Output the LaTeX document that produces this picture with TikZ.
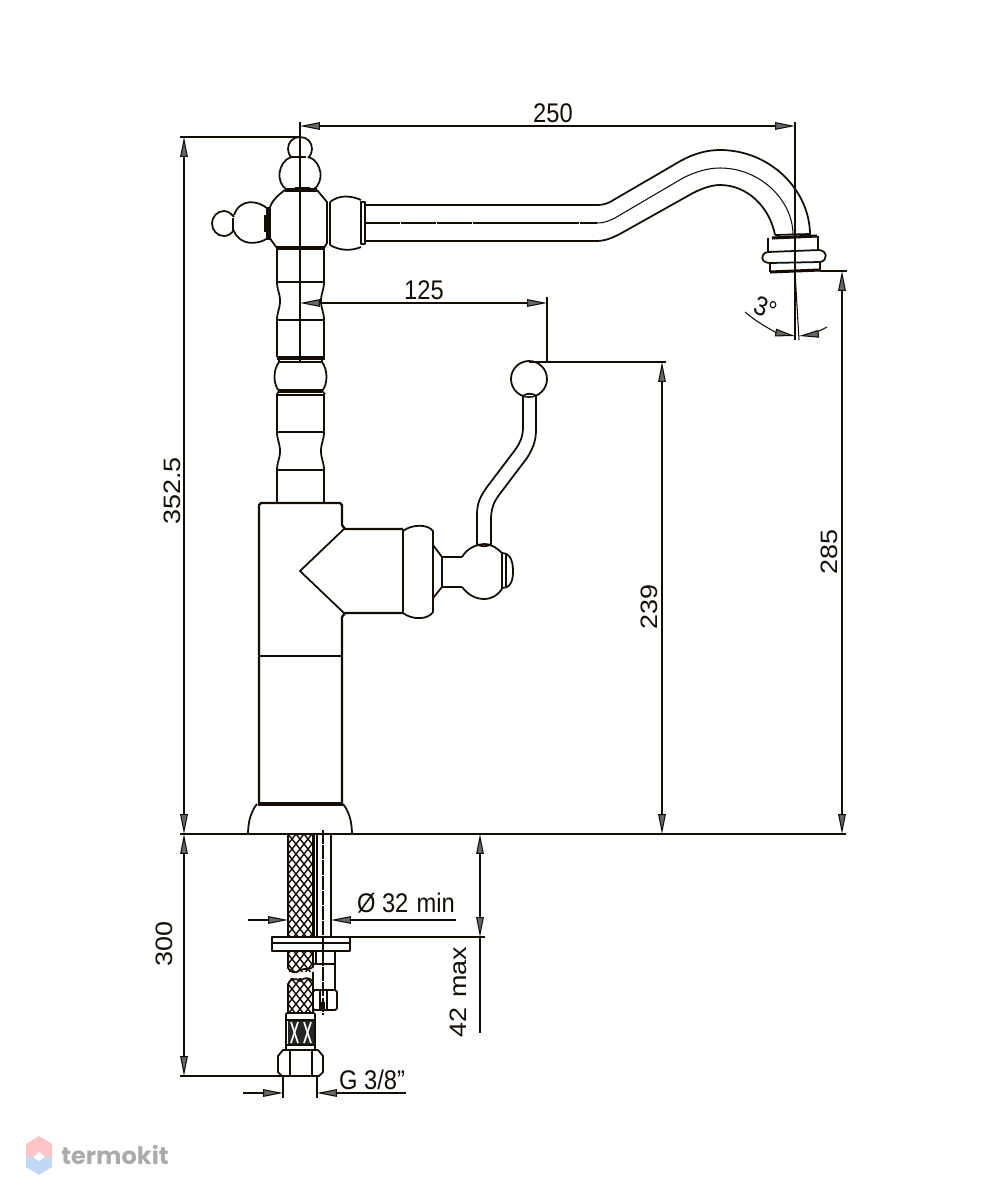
\documentclass[tikz,border=0pt]{standalone}
\usepackage{fontspec}
\setmainfont{Liberation Sans}
\newfontfamily\logofont{Poppins}
\usetikzlibrary{arrows.meta}
\definecolor{logopink}{HTML}{FFC4C8}
\definecolor{logoblue}{HTML}{BFD8F5}
\tikzset{
    part/.style={line width=1.5pt, black!90!brown, line join=round},
    thinpart/.style={line width=0.9pt, black!90!brown},
    boldpart/.style={line width=2.6pt, black!90!brown},
    dim/.style={line width=0.9pt, black!90!brown},
    dimarrow/.style={dim, {Stealth[length=17pt,width=6.5pt,inset=0pt,fill=black!60]}-{Stealth[length=17pt,width=6.5pt,inset=0pt,fill=black!60]}},
    onearrow/.style={dim, -{Stealth[length=17pt,width=6.5pt,inset=0pt,fill=black!60]}},
    dimtext/.style={inner sep=0pt, xscale=0.88, font=\fontsize{23}{25}\selectfont, text=black!90!brown},
    braid/.style={line width=1.2pt, black!90!brown},
}
\begin{document}
\begin{tikzpicture}[x=0.03cm, y=-0.03cm]
    \useasboundingbox (0,0) rectangle (1000,1200);

    % Extension lines and centre lines
    \draw[dim] (180,137) -- (300,137);
    \draw[dim] (300,122) -- (300,362);
    \draw[dim] (795,122) -- (795,340);
    \draw[dim] (795,271) -- (799,340);
    \draw[dim] (180,834) -- (846,834);
    \draw[dim] (820,271) -- (847,271);
    \draw[dim] (547,297) -- (547,362);
    \draw[dim] (529,362) -- (666,362);
    \draw[dim] (180,1076) -- (283,1076);
    \draw[dim] (322,937) -- (485,937);
    \draw[dim] (283,1076) -- (283,1098);
    \draw[dim] (317,1076) -- (317,1098);

    % Dimensions
    \draw[dimarrow] (300,126) -- (795,126);
    \node[dimtext] (len250) at (553,113) {250};
    \draw[dimarrow] (300,303) -- (547,303);
    \node[dimtext] (len125) at (424,290) {125};
    \draw[dimarrow] (184,137) -- (184,834);
    \node[dimtext, rotate=90] (len352) at (172,491) {352.5};
    \draw[dimarrow] (662,362) -- (662,834);
    \node[dimtext, rotate=90] (len239) at (649,607) {239};
    \draw[dimarrow] (842,271) -- (842,834);
    \node[dimtext, rotate=90] (len285) at (829,552) {285};
    \draw[dimarrow] (184,834) -- (184,1076);
    \node[dimtext, rotate=90] (len300) at (164,944) {300};
    \draw[dimarrow] (480,834) -- (480,937);
    \draw[dim] (480,937) -- (480,1033);
    \node[dimtext, rotate=90] (len42) at (458,992) {42\hspace{0.35em}max};

    % Hole and thread
    \draw[onearrow] (248,920) -- (288,920);
    \draw[onearrow] (456,920) -- (331,920);
    \node[dimtext] (hole) at (406,903) {Ø 32\hspace{0.35em}min};
    \draw[onearrow] (243,1093) -- (283,1093);
    \draw[onearrow] (406,1093) -- (317,1093);
    \node[dimtext] (thread) at (372,1080) {G 3/8"};

    % Spout angle
    \draw[onearrow] (745,312) .. controls (760,325) and (778,333) .. (795,336);
    \draw[onearrow] (827,327) .. controls (818,332) and (808,335) .. (799,336);
    \node[dimtext, rotate=-20] (angle) at (766,308) {3°};

    % Top knob
    \draw[part] (292,158) .. controls (289,155) and (288,152) .. (288,149) .. controls (288,142) and (293,137) .. (300,137) .. controls (307,137) and (312,142) .. (312,149) .. controls (312,152) and (311,155) .. (308,158);
    \draw[part] (291,157) .. controls (278,162) and (275,182) .. (287,190);
    \draw[part] (309,157) .. controls (322,162) and (325,182) .. (313,190);
    \draw[part] (290,157) -- (306,157);
    \draw[boldpart] (285,190) -- (317,190);
    \draw[boldpart] (295,189) -- (310,189);

    % Left knob
    \draw[part] (234,217) .. controls (231,213) and (227,211) .. (224,211) .. controls (217,211) and (212,217) .. (212,223.5) .. controls (212,230) and (217,236) .. (224,236) .. controls (228,236) and (231,234) .. (234,230);
    \draw[part] (234,215) .. controls (240,198) and (258,200) .. (268,209);
    \draw[part] (234,231) .. controls (240,246) and (258,245) .. (268,238);
    \draw[part] (233,218) -- (233,231);
    \draw[boldpart] (268,207) -- (268,240);
    \draw[boldpart] (266,215) -- (266,232);

    % Head
    \draw[part] (285,190) .. controls (278,195) and (272,201) .. (270,207) -- (270,238) .. controls (272,242) and (275,245) .. (277,248);
    \draw[part] (317,190) -- (327,202) -- (327,243) -- (324,248);
    \draw[boldpart] (277,248) -- (325,248);
    \draw[part] (330,202) -- (330,245);
    \draw[part] (330,202) .. controls (340,194) and (352,196) .. (361,200);
    \draw[part] (330,245) .. controls (340,251) and (352,251) .. (361,247);
    \draw[part] (361,202) rectangle (365,244);

    % Spout
    \draw[part] (365,205) -- (597,205) .. controls (602,205) and (606,204) .. (610,202) -- (677,163) .. controls (692,154) and (706,150) .. (720,150) .. controls (770,150) and (810,190) .. (810,235);
    \draw[thinpart, dash pattern=on 30pt off 0.6pt] (365,223) -- (597,223);
    \draw[thinpart] (597,223) .. controls (605,223) and (612,220) .. (620,215) -- (683,178) .. controls (697,171) and (709,168) .. (720,168) .. controls (760,168) and (793,200) .. (793,235);
    \draw[part] (365,241) -- (597,241) .. controls (608,241) and (618,235) .. (627,230) -- (693,193) .. controls (703,188) and (712,185) .. (720,185) .. controls (748,185) and (770,208) .. (775,235);

    % Aerator
    \draw[boldpart] (772,238) -- (817,236);
    \draw[part] (775,235) -- (810,234);
    \draw[part] (768,238) -- (768,252) (818,236) -- (818,251);
    \draw[part] (768,252) -- (820,250);
    \draw[part] (768,252) .. controls (760,253) and (760,263) .. (770,263);
    \draw[part] (818,250) .. controls (828,250) and (828,261) .. (820,262);
    \draw[part] (770,263) -- (820,262);
    \draw[part] (770,263) -- (770,272) (820,262) -- (820,271);
    \draw[boldpart] (770,272) -- (820,270);

    % Stem
    \draw[part] (277,248) -- (277,282) (324,248) -- (324,282);
    \draw[part] (277,282) -- (324,282);
    \foreach \a in {282,432} {
        \draw[part] (277,\a) .. controls (277,\a+8) and (280,\a+11) .. (280,\a+19) .. controls (280,\a+27) and (277,\a+30) .. (277,\a+38);
        \draw[part] (324,\a) .. controls (324,\a+8) and (321,\a+11) .. (321,\a+19) .. controls (321,\a+27) and (324,\a+30) .. (324,\a+38);
    }
    \draw[part] (277,320) -- (324,320);
    \draw[part] (277,320) -- (277,357) (324,320) -- (324,357);
    \draw[boldpart] (277,358) -- (325,358);
    \draw[part] (279,358) -- (279,362) -- (322,362) -- (322,358);
    \draw[part] (279,362) .. controls (273,370) and (273,384) .. (279,391);
    \draw[part] (322,362) .. controls (328,370) and (328,384) .. (322,391);
    \draw[boldpart] (279,391) -- (322,391);
    \draw[part] (279,391) -- (277,394) (322,391) -- (325,394);
    \draw[thinpart] (277,395) -- (325,395);
    \draw[part] (277,394) -- (277,432) (324,394) -- (324,432);
    \draw[part] (277,432) -- (324,432);
    \draw[thinpart] (277,470) -- (324,470);
    \draw[part] (277,470) -- (277,503) (324,470) -- (324,503);

    % Body
    \draw[part, line width=2pt] (259,803) -- (259,505) -- (261,503) -- (340,503) -- (342,505) -- (342,525) -- (345,529) -- (403,529);
    \draw[part, line width=2pt] (403,613) -- (345,613) -- (342,617) -- (342,803);
    \draw[part] (344,529) -- (300,571) -- (344,613);
    \draw[thinpart, line width=1.1pt] (259,656) -- (342,656);
    \draw[boldpart] (258,804) -- (343,804);
    \draw[part] (248,834) .. controls (248,820) and (252,810) .. (257,804);
    \draw[part] (352,834) .. controls (352,820) and (348,810) .. (343,804);

    % Collar
    \draw[part] (403,529) -- (403,613);
    \draw[part] (403,531) .. controls (412,524) and (428,524) .. (433,531) -- (433,612) .. controls (428,620) and (412,620) .. (403,613);
    \draw[part] (433,545) -- (442,557) -- (442,587) -- (433,598);

    % Lever hub
    \draw[part] (442,557) -- (462,557) (442,587) -- (462,587);
    \draw[part] (462,557) .. controls (467,549) and (474,545) .. (484,544) .. controls (492,544) and (498,549) .. (502,553);
    \draw[part] (462,587) .. controls (468,595) and (476,599) .. (484,599) .. controls (492,599) and (498,595) .. (502,589);
    \draw[part] (502,553) -- (502,589) (506,554) -- (506,588);
    \draw[part] (502,553) .. controls (512,553) and (513,565) .. (513,571) .. controls (513,578) and (512,588) .. (502,588);

    % Lever
    \draw[part] (477,545) -- (477,515) .. controls (477,503) and (480,497) .. (487,487) -- (515,450) .. controls (520,443) and (523,437) .. (523,427) -- (523,395);
    \draw[part] (491,545) -- (491,520) .. controls (491,510) and (493,503) .. (499,495) -- (527,458) .. controls (532,450) and (536,442) .. (536,430) -- (536,395);
    \draw[part] (477,544) .. controls (481,547) and (487,547) .. (491,544);
    \draw[part] (529,379) circle[radius=18];
    \draw[part, fill=white] (523,396) .. controls (526,393) and (533,393) .. (536,396);

    % Flexible hose
    \begin{scope}
        \clip (288,834) rectangle (313,937)
              (288,951) rectangle (313,972)
              (288,978) rectangle (313,1013);
        \foreach \k in {15,...,60} {
            \draw[braid] (8*\k,834) -- ++(180,225);
            \draw[braid] (8*\k,834) -- ++(-180,225);
        }
    \end{scope}
    \draw[part] (288,834) -- (288,937) (313,834) -- (313,937);
    \draw[part] (288,951) -- (288,968) .. controls (292,974) and (296,973) .. (300,970) .. controls (305,968) and (310,970) .. (313,967) -- (313,951);
    \draw[part] (288,1013) -- (288,984) .. controls (290,978) and (296,978) .. (300,981) .. controls (304,977) and (310,977) .. (313,982) -- (313,1013);

    % Thin tube
    \draw[part] (314,834) -- (314,937);
    \draw[part] (317,834) -- (317,937);
    \draw[part] (331,834) -- (331,937);
    \draw[thinpart, dash pattern=on 12pt off 1pt] (323,830) -- (323,1015);

    % Mounting plate
    \draw[part] (272,937) rectangle (350,951);
    \draw[part] (272,943) -- (350,943);

    % Tube end below the plate
    \draw[part] (313,951) -- (313,964) (335,951) -- (335,990);
    \draw[part] (313,964) -- (335,964);
    \draw[thinpart] (316,951) -- (316,964);
    \draw[part] (313,972) -- (313,990);
    \draw[part, rounded corners=1.5pt] (313,990) rectangle (337,1010);
    \draw[thinpart] (320,990) -- (320,1010) (327,990) -- (327,1010);
    \draw[boldpart] (323,1002) -- (323,1010);

    % Ferrule
    \foreach \x in {288,301} {
        \fill[black!85] (\x,1020) rectangle (\x+13,1045);
        \draw[white, line width=1.4pt] (\x+3,1022) -- (\x+10,1043);
        \draw[white, line width=1.4pt] (\x+10,1022) -- (\x+3,1043);
    }
    \draw[part, rounded corners=1pt] (286,1013) rectangle (315,1050);
    \draw[part] (286,1020) -- (315,1020);
    \draw[part] (286,1045) -- (315,1045);

    % Nut
    \draw[part] (283,1050) -- (318,1050) -- (323,1056) -- (323,1072) -- (319,1076) -- (282,1076) -- (278,1072) -- (278,1056) -- cycle;
    \draw[part] (290,1050) -- (290,1076) (312,1050) -- (312,1076);

    % Watermark
    \fill[logopink] (39,1136) -- (52,1144) -- (52,1157) -- (26,1157) -- (26,1144) -- cycle;
    \fill[logoblue] (26,1157) -- (52,1157) -- (52,1167) -- (39,1175) -- (26,1167) -- cycle;
    \fill[white] (33,1157) -- (39,1152) -- (45,1157) -- (39,1161) -- cycle;
    \node[inner sep=0pt, text=black!33, font=\logofont\bfseries\fontsize{20.5}{22}\selectfont] (logo) at (115,1155) {termokit};
\end{tikzpicture}
\end{document}
